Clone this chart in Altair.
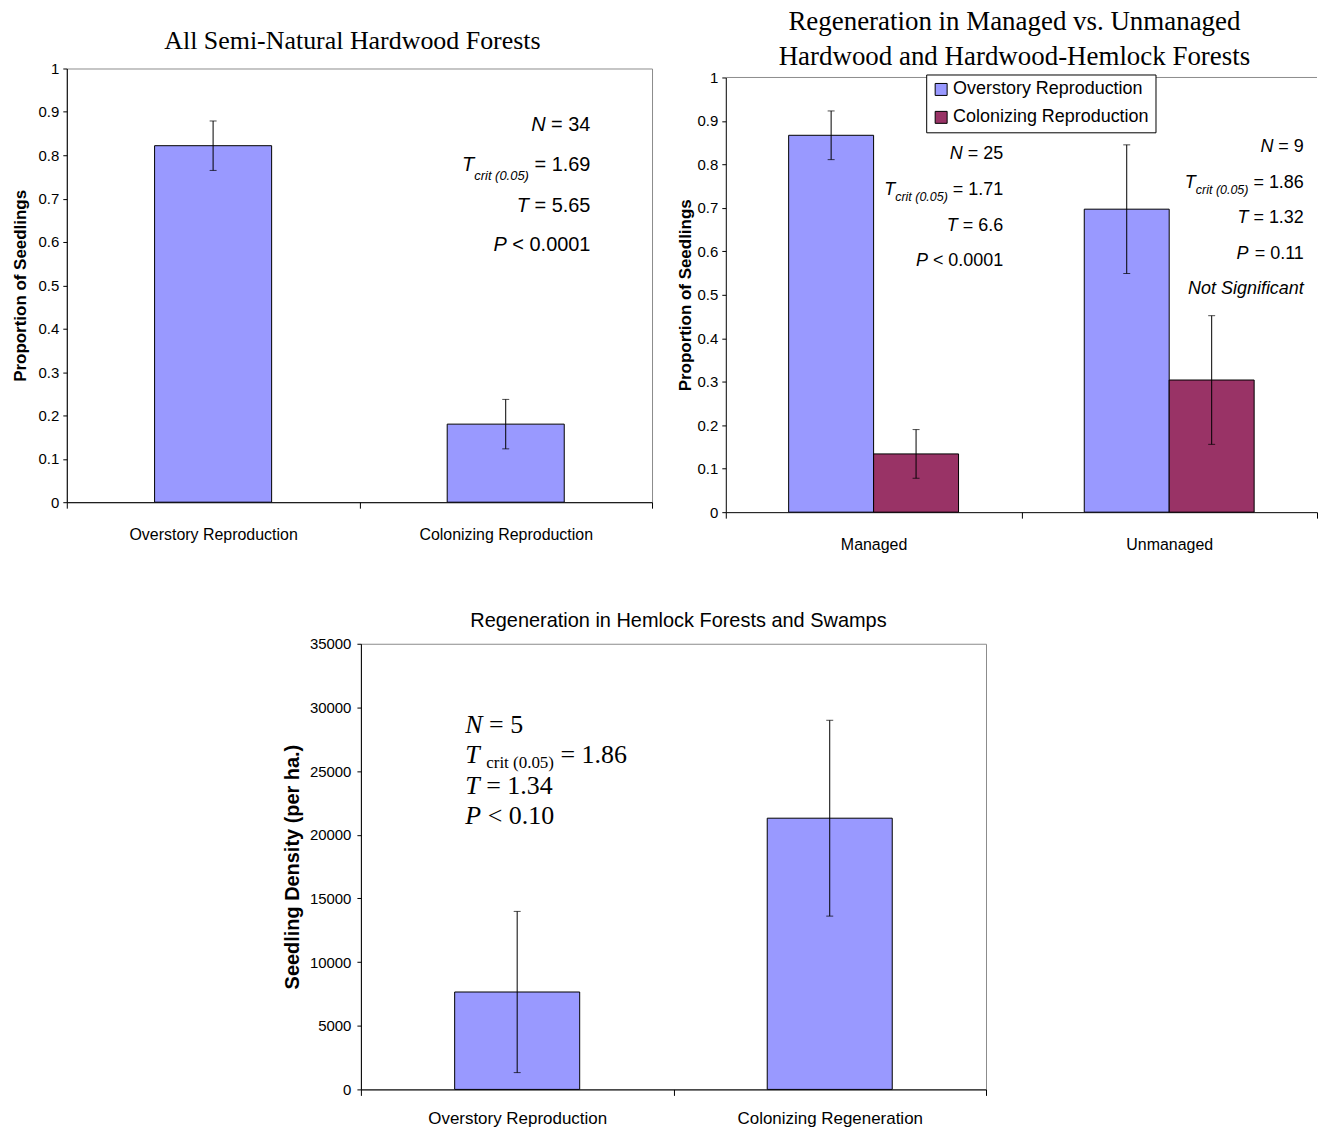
import altair as alt
import pandas as pd

SANS = "Liberation Sans"
SERIF = "Liberation Serif"
BORDER = "#8c8c8c"
BLUE = "#9999FF"
PLUM = "#993366"

# ---- All semi-natural hardwood forests: proportion of seedlings ----
hw_kinds = ["Overstory Reproduction", "Colonizing Reproduction"]
hw_mean = [0.822, 0.180]
hw_err = [0.057, 0.057]
hw_n, hw_tcrit, hw_t, hw_p = "34", "1.69", "5.65", "< 0.0001"

# ---- Managed vs. unmanaged hardwood / hardwood-hemlock stands ----
mg_groups = ["Managed", "Unmanaged"]
mg_kinds = ["Overstory Reproduction", "Colonizing Reproduction"]
mg_mean_managed = [0.867, 0.134]
mg_mean_unmanaged = [0.697, 0.304]
mg_err_managed = [0.056, 0.056]
mg_err_unmanaged = [0.148, 0.148]
mg_n = ["25", "9"]
mg_tcrit = ["1.71", "1.86"]
mg_t = ["6.6", "1.32"]
mg_p = ["< 0.0001", "= 0.11"]
mg_note = "Not Significant"

# ---- Hemlock forests and swamps: seedling density per hectare ----
hs_kinds = ["Overstory Reproduction", "Colonizing Regeneration"]
hs_mean = [7650, 21300]
hs_err = [6330, 7690]
hs_n, hs_tcrit, hs_t, hs_p = "5", "1.86", "1.34", "< 0.10"

PROP_TICKS = [0, 0.1, 0.2, 0.3, 0.4, 0.5, 0.6, 0.7, 0.8, 0.9, 1]
DENS_TICKS = [0, 5000, 10000, 15000, 20000, 25000, 30000, 35000]

# advance widths (per 1000 em) used to butt the pieces of each statistic together
ARIAL = {" ": 278, "=": 584, "<": 584, ".": 278, "(": 333, ")": 333,
         "c": 500, "r": 333, "i": 222, "t": 278, "N": 722, "T": 611, "P": 667}
TIMES = {" ": 250, "=": 564, "<": 564, ".": 250, "(": 333, ")": 333,
         "c": 444, "r": 333, "i": 278, "t": 278, "N": 667, "T": 556, "P": 611}


def text_width(s, size, table):
    digit = 556 if table is ARIAL else 500
    return sum(table.get(ch, digit) for ch in s) * size / 1000.0


def piece(cat, val, txt, dx, size, font, italic, align):
    return dict(cat=cat, val=val, txt=txt, dx=dx, size=size, font=font,
                italic=italic, align=align)


def right_stat(cat, val, letter, rest, anchor, size):
    # italic symbol, a space, then the upright relation and value, flush right
    w = text_width(" " + rest, size, ARIAL)
    return [piece(cat, val, rest, anchor, size, SANS, False, "right"),
            piece(cat, val, letter, anchor - w, size, SANS, True, "right")]


def right_tcrit(cat, val, sub_val, value, anchor, size, sub_size):
    rest = "= " + value
    w = text_width(" " + rest, size, ARIAL)
    ws = text_width("crit (0.05)", sub_size, ARIAL)
    return [piece(cat, val, rest, anchor, size, SANS, False, "right"),
            piece(cat, sub_val, "crit (0.05)", anchor - w, sub_size, SANS, True, "right"),
            piece(cat, val, "T", anchor - w - ws, size, SANS, True, "right")]


def text_layers(pieces, x_field, x_enc, y_enc):
    layers = []
    for p in pieces:
        d = pd.DataFrame({x_field: [p["cat"]], "val": [p["val"]], "txt": [p["txt"]]})
        layers.append(
            alt.Chart(d).mark_text(
                dx=p["dx"], align=p["align"], baseline="alphabetic", font=p["font"],
                fontSize=p["size"], fontStyle="italic" if p["italic"] else "normal",
                color="black",
            ).encode(x=x_enc, y=y_enc("val"), text="txt:N")
        )
    return layers


def x_axis(label_size, label_pad):
    return alt.Axis(labelAngle=0, tickBand="extent", tickSize=6, labelPadding=label_pad,
                    labelFontSize=label_size, labelFont=SANS, labelColor="black",
                    labelLimit=0, domainColor="black", tickColor="black", grid=False)


def y_prop_factory(title_pad, pixel_range=None):
    scale_args = dict(domain=[0, 1], nice=False)
    if pixel_range is not None:
        scale_args["range"] = pixel_range

    def y_prop(field):
        return alt.Y(f"{field}:Q", title="Proportion of Seedlings",
                     scale=alt.Scale(**scale_args),
                     axis=alt.Axis(values=PROP_TICKS, format="~g", tickSize=4, labelPadding=4,
                                   labelFontSize=15, titleFontSize=17, titleFontWeight="bold",
                                   titlePadding=title_pad, grid=False))
    return y_prop


def y_dens(field):
    return alt.Y(f"{field}:Q", title="Seedling Density (per ha.)",
                 scale=alt.Scale(domain=[0, 35000], nice=False),
                 axis=alt.Axis(values=DENS_TICKS, format="d", tickSize=4, labelPadding=6,
                               labelFontSize=15, titleFontSize=20, titleFontWeight="bold",
                               titlePadding=7, grid=False))


def error_layers(df, x_enc, y_enc, offset=None):
    enc = dict(x=x_enc)
    if offset is not None:
        enc["xOffset"] = offset
    rule = alt.Chart(df).mark_rule(color="black", strokeWidth=1).encode(
        y=y_enc("lo"), y2="hi:Q", **enc)
    lo = alt.Chart(df).mark_tick(color="black", thickness=1, size=7, orient="horizontal").encode(
        y=y_enc("lo"), **enc)
    hi = alt.Chart(df).mark_tick(color="black", thickness=1, size=7, orient="horizontal").encode(
        y=y_enc("hi"), **enc)
    return [rule, lo, hi]


# ================= Panel 1 =================
df1 = pd.DataFrame({"cat": hw_kinds, "val": hw_mean, "err": hw_err})
df1["lo"] = df1["val"] - df1["err"]
df1["hi"] = df1["val"] + df1["err"]

x1 = alt.X("cat:N", title=None,
           scale=alt.Scale(domain=hw_kinds, paddingInner=0, paddingOuter=0),
           axis=x_axis(16, 18))
y1 = y_prop_factory(9)

bars1 = alt.Chart(df1).mark_bar(
    fill=BLUE, stroke="black", strokeWidth=1, width=alt.RelativeBandSize(0.4)
).encode(x=x1, y=y1("val"))

c1_anchor = 85
pieces1 = []
pieces1 += right_stat(hw_kinds[1], 0.856, "N", "= " + hw_n, c1_anchor, 20)
pieces1 += right_tcrit(hw_kinds[1], 0.763, 0.7425, hw_tcrit, c1_anchor, 20, 13)
pieces1 += right_stat(hw_kinds[1], 0.670, "T", "= " + hw_t, c1_anchor, 20)
pieces1 += right_stat(hw_kinds[1], 0.580, "P", hw_p, c1_anchor, 20)

panel1 = alt.layer(
    bars1, *error_layers(df1, x1, y1), *text_layers(pieces1, "cat", x1, y1)
).properties(
    width=587, height=435,
    title=alt.TitleParams("All Semi-Natural Hardwood Forests", font=SERIF, fontSize=26,
                          fontWeight="normal", offset=8, dx=-7, color="black"),
)

# ================= Panel 2 =================
rows = []
for g, means, errs in [(mg_groups[0], mg_mean_managed, mg_err_managed),
                       (mg_groups[1], mg_mean_unmanaged, mg_err_unmanaged)]:
    for k, m, e in zip(mg_kinds, means, errs):
        rows.append({"grp": g, "kind": k, "val": m, "err": e})
df2 = pd.DataFrame(rows)
df2["lo"] = df2["val"] - df2["err"]
df2["hi"] = df2["val"] + df2["err"]

x2 = alt.X("grp:N", title=None,
           scale=alt.Scale(domain=mg_groups, paddingInner=0, paddingOuter=0),
           axis=x_axis(16, 18))
xo2 = alt.XOffset("kind:N", scale=alt.Scale(domain=mg_kinds, paddingInner=0, paddingOuter=0.74))
# the value axis of this panel starts a little below the top of its cell
y2 = y_prop_factory(3, pixel_range=[445, 9])

bars2 = alt.Chart(df2).mark_bar(stroke="black", strokeWidth=1).encode(
    x=x2, xOffset=xo2, y=y2("val"),
    color=alt.Color("kind:N", scale=alt.Scale(domain=mg_kinds, range=[BLUE, PLUM]),
                    legend=alt.Legend(title=None, orient="none", legendX=862, legendY=6,
                                      direction="vertical", fillColor="white",
                                      strokeColor="black", padding=6, symbolType="square",
                                      symbolSize=144, symbolStrokeColor="black",
                                      symbolStrokeWidth=1, symbolOpacity=1, labelFontSize=18,
                                      labelFont=SANS, labelColor="black", rowPadding=10,
                                      labelOffset=3, labelLimit=400)),
)

top_edge = alt.Chart(pd.DataFrame({"val": [1.0]})).mark_rule(
    color=BORDER, strokeWidth=1).encode(y=y2("val"))

pieces2 = []
for g, anchor, ys in [(mg_groups[0], 130, [0.812, 0.729, 0.716, 0.647, 0.567]),
                      (mg_groups[1], 135, [0.828, 0.745, 0.732, 0.665, 0.583])]:
    i = mg_groups.index(g)
    pieces2 += right_stat(g, ys[0], "N", "= " + mg_n[i], anchor, 18)
    pieces2 += right_tcrit(g, ys[1], ys[2], mg_tcrit[i], anchor, 18, 12.5)
    pieces2 += right_stat(g, ys[3], "T", "= " + mg_t[i], anchor, 18)
    pieces2 += right_stat(g, ys[4], "P", mg_p[i], anchor, 18)
pieces2.append(piece(mg_groups[1], 0.502, mg_note, 135, 18, SANS, True, "right"))

panel2 = alt.layer(
    bars2, top_edge, *error_layers(df2, x2, y2, offset=xo2),
    *text_layers(pieces2, "grp", x2, y2)
).properties(
    width=593, height=445,
    view=alt.ViewBackground(stroke="transparent"),
    title=alt.TitleParams(["Regeneration in Managed vs. Unmanaged",
                           "Hardwood and Hardwood-Hemlock Forests"],
                          font=SERIF, fontSize=27, fontWeight="normal", lineHeight=35,
                          offset=-2, dx=-7, color="black"),
)

# ================= Panel 3 =================
df3 = pd.DataFrame({"cat": hs_kinds, "val": hs_mean, "err": hs_err})
df3["lo"] = df3["val"] - df3["err"]
df3["hi"] = df3["val"] + df3["err"]

x3 = alt.X("cat:N", title=None,
           scale=alt.Scale(domain=hs_kinds, paddingInner=0, paddingOuter=0),
           axis=x_axis(17, 15.5))

bars3 = alt.Chart(df3).mark_bar(
    fill=BLUE, stroke="black", strokeWidth=1, width=alt.RelativeBandSize(0.4)
).encode(x=x3, y=y_dens("val"))

c3_left = -52
sp = text_width(" ", 26, TIMES)
wT = text_width("T", 26, TIMES)
sub_x = c3_left + wT + sp
w_sub = text_width("crit (0.05)", 17, TIMES)
pieces3 = [
    piece(hs_kinds[0], 27953, "N", c3_left, 26, SERIF, True, "left"),
    piece(hs_kinds[0], 27953, "= " + hs_n, c3_left + text_width("N", 26, TIMES) + sp, 26, SERIF, False, "left"),
    piece(hs_kinds[0], 25604, "T", c3_left, 26, SERIF, True, "left"),
    piece(hs_kinds[0], 25213, "crit (0.05)", sub_x, 17, SERIF, False, "left"),
    piece(hs_kinds[0], 25604, "= " + hs_tcrit, sub_x + w_sub + sp, 26, SERIF, False, "left"),
    piece(hs_kinds[0], 23177, "T", c3_left, 26, SERIF, True, "left"),
    piece(hs_kinds[0], 23177, "= " + hs_t, c3_left + wT + sp, 26, SERIF, False, "left"),
    piece(hs_kinds[0], 20828, "P", c3_left, 26, SERIF, True, "left"),
    piece(hs_kinds[0], 20828, hs_p, c3_left + text_width("P", 26, TIMES) + sp, 26, SERIF, False, "left"),
]

panel3 = alt.layer(
    bars3, *error_layers(df3, x3, y_dens), *text_layers(pieces3, "cat", x3, y_dens)
).properties(
    width=627, height=447,
    title=alt.TitleParams("Regeneration in Hemlock Forests and Swamps", font=SANS, fontSize=20,
                          fontWeight="normal", offset=6, dx=5, color="black"),
)

# empty cell that pushes the lower panel toward the middle of the page
spacer = alt.Chart(pd.DataFrame({"val": [0]})).mark_point(opacity=0).encode(
    x=alt.X("val:Q", axis=None), y=alt.Y("val:Q", axis=None)
).properties(width=204, height=10, view=alt.ViewBackground(stroke="transparent"))

chart = alt.vconcat(
    alt.hconcat(panel1, panel2, spacing=22),
    alt.hconcat(spacer, panel3, spacing=10),
    spacing=57,
).properties(
    padding={"left": 10, "top": 5, "right": 0, "bottom": 0},
    background="white",
).configure_view(
    stroke=BORDER, strokeWidth=1
).configure_axis(
    labelFont=SANS, titleFont=SANS, labelColor="black", titleColor="black",
    domainColor="black", tickColor="black", grid=False,
).configure_title(
    color="black"
)

chart.save("out.html", embed_options={"renderer": "svg", "actions": False})
